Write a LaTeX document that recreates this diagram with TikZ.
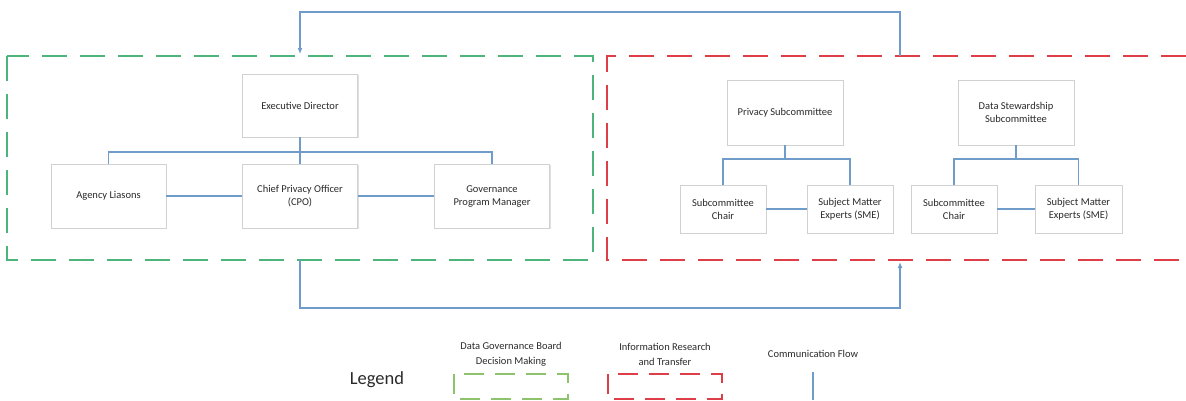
\documentclass[tikz,border=0pt]{standalone}
\usepackage{fontspec}
\setmainfont{Carlito}
\usetikzlibrary{arrows.meta,shadows}
\definecolor{frgreen}{HTML}{4DB47C}
\definecolor{lggreen}{HTML}{8CC36C}
\definecolor{frred}{HTML}{DE3E48}
\definecolor{flowblue}{HTML}{6F9CC8}
\definecolor{txt}{HTML}{2A2A2A}
\tikzset{
  orgbox/.style={draw=black!18, fill=white, line width=0.8pt, align=center,
    font=\fontsize{10.5}{13}\selectfont, text=txt, inner sep=2pt,
    drop shadow={shadow xshift=1.2pt, shadow yshift=-1.2pt, opacity=0.12, fill=black}},
  bigbox/.style={orgbox, minimum width=115pt, minimum height=64pt},
  smallbox/.style={orgbox, minimum width=86pt, minimum height=48pt},
  link/.style={draw=flowblue, line width=1.2pt},
  flow/.style={draw=flowblue, line width=1.2pt, -{Latex[length=6pt,width=5pt]}},
  gframe/.style={draw=frgreen, line width=2.5pt, dash pattern=on 25pt off 13pt},
  rframe/.style={draw=frred, line width=2.5pt, dash pattern=on 25pt off 13pt},
  lgframe/.style={draw=lggreen, line width=2pt, dash pattern=on 20pt off 11pt},
  lrframe/.style={draw=frred, line width=2pt, dash pattern=on 20pt off 11pt},
  lbl/.style={align=center, font=\fontsize{10.5}{15}\selectfont, text=txt}
}
\begin{document}
\begin{tikzpicture}[x=1pt,y=-1pt]
\useasboundingbox (0,0) rectangle (1186,400);

% frames
\coordinate (gtl) at (7,56);
\coordinate (gbr) at (593,260);
\draw[gframe] (gtl) rectangle (gbr);
\coordinate (rtr) at (1186,56);
\coordinate (rtl) at (607,56);
\coordinate (rbl) at (607,260);
\coordinate (rbr) at (1186,260);
\draw[rframe] (rtr) -- (rtl) -- (rbl) -- (rbr);

% left org chart
\node[bigbox, minimum height=63pt] (ed) at (300,105.5) {Executive Director};
\node[bigbox] (ag) at (108.5,196) {Agency Liasons};
\node[bigbox] (cpo) at (300,196) {Chief Privacy Officer\\(CPO)};
\node[bigbox] (gpm) at (492,196) {Governance\\Program Manager};
\coordinate (edj) at (300,152);
\draw[link] (ed.south) -- (edj) -| (ag.north);
\draw[link] (edj) -| (gpm.north);
\draw[link] (edj) -- (cpo.north);
\draw[link] (ag.east) -- (cpo.west);
\draw[link] (cpo.east) -- (gpm.west);

% right subcommittees
\node[bigbox, minimum width=116pt, minimum height=65pt] (ps) at (785,112.5) {Privacy Subcommittee};
\node[bigbox, minimum width=116pt, minimum height=65pt] (ds) at (1016,112.5) {Data Stewardship\\Subcommittee};
\node[smallbox] (sc1) at (723,209) {Subcommittee\\Chair};
\node[smallbox] (sm1) at (850,209) {Subject Matter\\Experts (SME)};
\node[smallbox] (sc2) at (954,209) {Subcommittee\\Chair};
\node[smallbox, minimum width=87pt] (sm2) at (1078.5,209) {Subject Matter\\Experts (SME)};
\coordinate (psj) at (785,159);
\coordinate (dsj) at (1016,159);
\draw[link] (ps.south) -- (psj) -| (sc1.north);
\draw[link] (psj) -| (sm1.north);
\draw[link] (ds.south) -- (dsj) -| (sc2.north);
\draw[link] (dsj) -| (sm2.north);
\draw[link] (sc1.east) -- (sm1.west);
\draw[link] (sc2.east) -- (sm2.west);

% communication flow
\coordinate (rtop) at (900,56);
\coordinate (gtop) at (300,54);
\draw[flow] (rtop) -- (900,12) -| (gtop);
\coordinate (gbot) at (300,260);
\coordinate (rbot) at (900,262);
\draw[flow] (gbot) -- (300,308) -| (rbot);

% legend
\node[font=\fontsize{18.5}{20}\selectfont, text=txt] (leg) at (377,380) {Legend};
\node[lbl] (l1) at (511,354.5) {Data Governance Board\\Decision Making};
\node[lbl] (l2) at (665,354.5) {Information Research\\and Transfer};
\node[lbl] (l3) at (813,354) {Communication Flow};
\coordinate (lg1) at (454,374);
\coordinate (lg2) at (568,399);
\draw[lgframe] (lg1) rectangle (lg2);
\coordinate (lr1) at (608,374);
\coordinate (lr2) at (722,399);
\draw[lrframe] (lr1) rectangle (lr2);
\coordinate (lb1) at (813,372);
\coordinate (lb2) at (813,400);
\draw[link] (lb1) -- (lb2);
\end{tikzpicture}
\end{document}
